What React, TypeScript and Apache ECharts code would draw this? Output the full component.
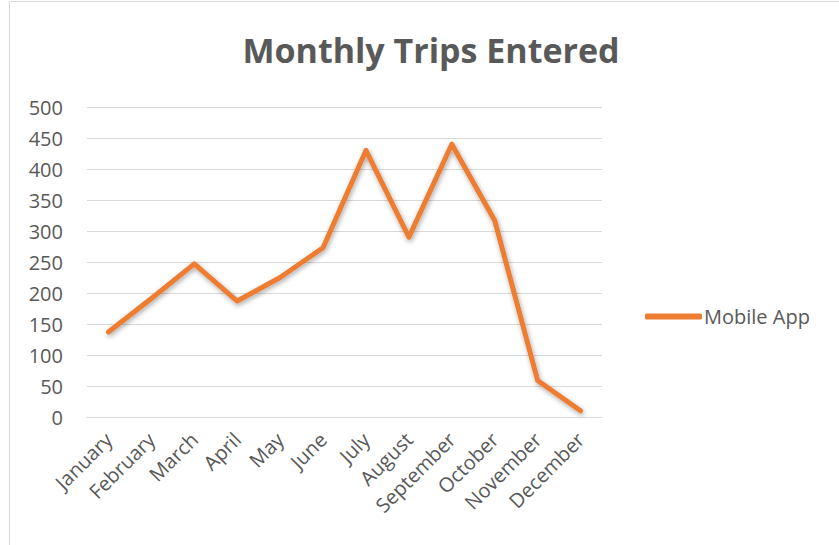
import React, { useEffect, useRef } from "react";
import * as echarts from "echarts";

const months = ["January", "February", "March", "April", "May", "June", "July", "August", "September", "October", "November", "December"];
const mobileApp = [137, 191, 247, 187, 225, 273, 430, 290, 440, 317, 59, 10];
const seriesName = "Mobile App";
const chartTitle = "Monthly Trips Entered";

export default function App() {
  const ref = useRef<HTMLDivElement>(null);
  useEffect(() => {
    const chart = echarts.init(ref.current!, null, { renderer: "svg" });
    chart.setOption({
      animation: false,
      backgroundColor: "#ffffff",
      graphic: [
        {
          type: "rect",
          shape: { x: 9.5, y: 1.5, width: 840, height: 560 },
          style: { fill: "none", stroke: "#d9d9d9", lineWidth: 1 },
          silent: true,
        },
      ],
      title: {
        text: chartTitle,
        left: 426,
        textAlign: "center",
        top: 28,
        textStyle: { fontFamily: "Open Sans", fontWeight: "bold", fontSize: 34, color: "#595959" },
      },
      legend: {
        data: [seriesName],
        left: 640,
        top: 301,
        itemWidth: 57,
        itemHeight: 6,
        itemGap: 4,
        icon: "roundRect",
        textStyle: { fontFamily: "Open Sans", fontSize: 20, lineHeight: 21, color: "#595959", padding: [0, 0, 0, -3] },
      },
      grid: { left: 87, right: 237, top: 107, bottom: 128, containLabel: false },
      xAxis: {
        type: "category",
        data: months,
        boundaryGap: true,
        axisLine: { show: true, lineStyle: { color: "#d9d9d9", width: 1 } },
        axisTick: { show: false },
        axisLabel: {
          rotate: 45,
          interval: 0,
          margin: 19,
          fontFamily: "Open Sans",
          fontSize: 20,
          color: "#595959",
        },
      },
      yAxis: {
        type: "value",
        min: 0,
        max: 500,
        interval: 50,
        axisLine: { show: false },
        axisTick: { show: false },
        splitLine: { lineStyle: { color: "#d9d9d9", width: 1 } },
        axisLabel: { fontFamily: "Open Sans", fontSize: 20, color: "#595959", margin: 24 },
      },
      series: [
        {
          name: seriesName,
          type: "line",
          data: mobileApp,
          symbol: "none",
          lineStyle: {
            color: "#ED7D31",
            width: 5,
            cap: "round",
            join: "round",
            shadowColor: "rgba(0,0,0,0.35)",
            shadowBlur: 5,
            shadowOffsetX: 1,
            shadowOffsetY: 2,
          },
          itemStyle: { color: "#ED7D31" },
        },
      ],
    });
    return () => chart.dispose();
  }, []);
  return <div ref={ref} style={{ position: "fixed", left: 0, top: 0, width: 839, height: 545 }} />;
}
